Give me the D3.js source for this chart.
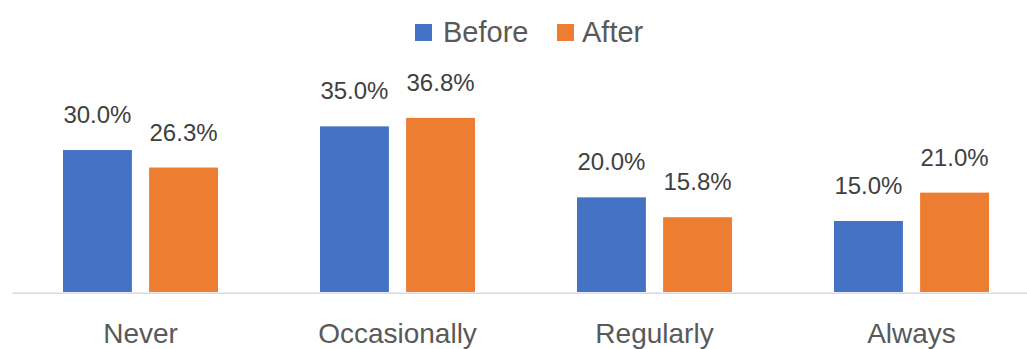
<!DOCTYPE html>
<html>
<head>
<meta charset="utf-8">
<script src="https://cdn.jsdelivr.net/npm/d3@7"></script>
<style>
  html, body { margin: 0; padding: 0; background: #fff; }
  svg { display: block; font-family: "Liberation Sans", Arial, sans-serif; }
</style>
</head>
<body>
<svg id="chart" width="1027" height="349"></svg>
<script>
// Survey response frequency, before vs after
const categories = ["Never", "Occasionally", "Regularly", "Always"];
const seriesNames = ["Before", "After"];
const beforeValues = [30.0, 35.0, 20.0, 15.0];
const afterValues = [26.3, 36.8, 15.8, 21.0];
const colors = ["#4472C4", "#ED7D31"];

const rows = categories.map((c, i) => ({
  category: c,
  values: [
    { series: seriesNames[0], value: beforeValues[i] },
    { series: seriesNames[1], value: afterValues[i] }
  ]
}));

const svg = d3.select("#chart");
const baseY = 292;

const x0 = d3.scaleBand().domain(categories).range([12, 1040]).padding(0);
const x1 = d3.scaleBand().domain(seriesNames).range([51, 206]).paddingInner(0.2);
const y = d3.scaleLinear().domain([0, 40]).range([baseY, baseY - 189.3]);
const color = d3.scaleOrdinal().domain(seriesNames).range(colors);

// Bars
const groups = svg.append("g").selectAll("g")
  .data(rows).join("g")
  .attr("transform", d => `translate(${x0(d.category)},0)`);

groups.selectAll("rect")
  .data(d => d.values).join("rect")
  .attr("x", d => x1(d.series))
  .attr("width", x1.bandwidth())
  .attr("y", d => y(d.value))
  .attr("height", d => baseY - y(d.value))
  .attr("fill", d => color(d.series));

// Value labels
groups.selectAll("text.val")
  .data(d => d.values).join("text")
  .attr("class", "val")
  .attr("x", d => x1(d.series) + x1.bandwidth() / 2)
  .attr("y", d => y(d.value) - 27)
  .attr("text-anchor", "middle")
  .attr("font-size", 24)
  .attr("fill", "#404040")
  .text(d => d.value.toFixed(1) + "%");

// Category axis
const axis = svg.append("g")
  .attr("transform", `translate(0,${baseY + 0.75})`)
  .call(d3.axisBottom(x0).tickSize(0).tickSizeOuter(0));
axis.select(".domain").attr("stroke", "#D9D9D9").attr("stroke-width", 1.5);
axis.selectAll(".tick text")
  .attr("y", 50)
  .attr("dy", 0)
  .attr("font-size", 28)
  .attr("font-family", "Liberation Sans, Arial, sans-serif")
  .attr("fill", "#595959");

// Legend
const legendPos = [415, 557];
const legend = svg.append("g").selectAll("g")
  .data(seriesNames).join("g")
  .attr("transform", (d, i) => `translate(${legendPos[i]},0)`);
legend.append("rect")
  .attr("x", 0).attr("y", 24)
  .attr("width", 17).attr("height", 17)
  .attr("fill", d => color(d));
legend.append("text")
  .attr("x", (d, i) => i === 0 ? 28 : 25)
  .attr("y", 42)
  .attr("font-size", 29)
  .attr("fill", "#595959")
  .text(d => d);
</script>
</body>
</html>
